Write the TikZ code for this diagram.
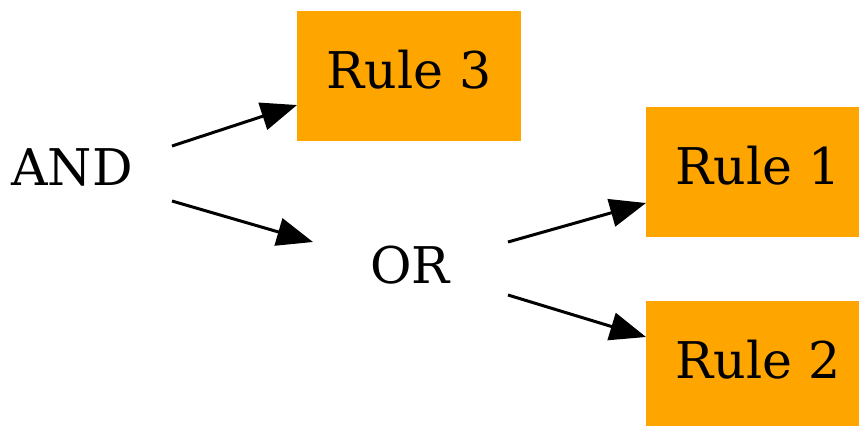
\documentclass[tikz,border=0pt]{standalone}
\usepackage{fontspec}
\setmainfont{DejaVu Serif}
\usetikzlibrary{arrows.meta,calc}
\definecolor{rulefill}{HTML}{FFA500}
\begin{document}
\begin{tikzpicture}[x=0.5pt,y=-0.5pt,
  every node/.style={font=\fontsize{25.3pt}{30pt}\selectfont,
    text height=18pt,text depth=6pt,inner sep=0pt},
  oplabel/.style={},
  rulebox/.style={fill=rulefill,minimum width=112pt,minimum height=65pt},
  edge/.style={line width=1.5pt,-{Triangle[length=18pt,width=14pt]}}]
  \useasboundingbox (0,0) rectangle (859,425);
  % operator nodes
  \node[oplabel] (and) at (72,173) {AND};
  \node[oplabel] (or) at (410,271) {OR};
  % rule boxes
  \node[rulebox] (r3) at (409,76) {Rule 3};
  \node[rulebox] (r1) at (758,172) {Rule 1};
  \node[rulebox] (r2) at (758,366) {Rule 2};
  % connectors
  \draw[edge] ($(and.center)+(100,-27)$) -- ($(r3.center)+(-112,29)$);
  \draw[edge] ($(and.center)+(100,28)$) -- ($(or.center)+(-97,-29)$);
  \draw[edge] ($(or.center)+(98,-29)$) -- ($(r1.center)+(-112,31)$);
  \draw[edge] ($(or.center)+(98,24)$) -- ($(r2.center)+(-112,-29)$);
\end{tikzpicture}
\end{document}
